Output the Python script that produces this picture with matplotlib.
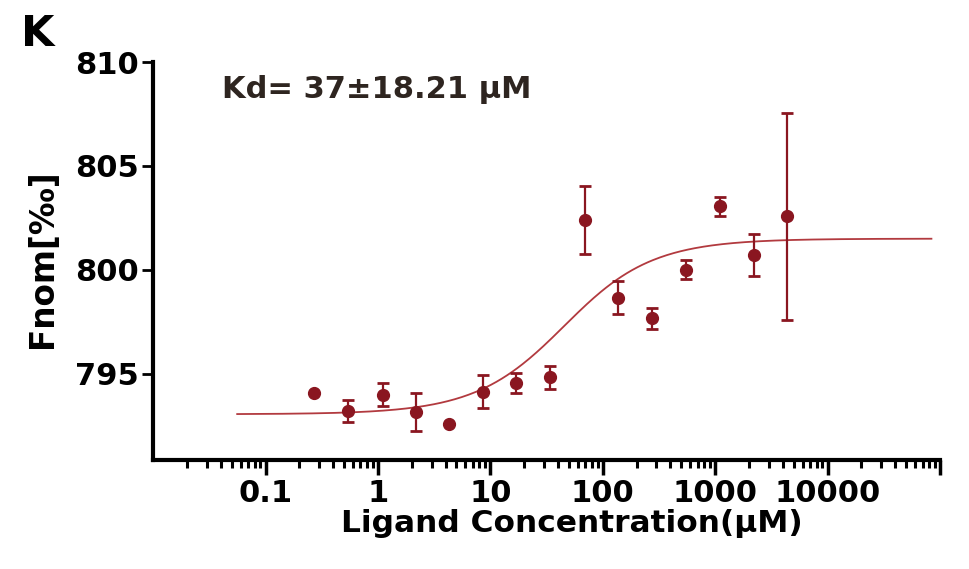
import numpy as np
import matplotlib.pyplot as plt
from matplotlib.ticker import FixedLocator, NullFormatter

plt.rcParams['font.family'] = ['DejaVu Sans']
plt.rcParams['font.weight'] = 'bold'

# ligand concentration (uM), 2-fold dilution series
conc = [0.27, 0.54, 1.1, 2.2, 4.3, 8.6, 17, 34, 69, 137, 275, 550, 1100, 2200, 4400]
# mean Fnorm (per mille) and SD
fnorm = [794.05, 793.2, 794.0, 793.15, 792.57, 794.14, 794.55, 794.82,
         802.39, 798.65, 797.66, 800.0, 803.06, 800.72, 802.57]
sd = [0.0, 0.54, 0.56, 0.9, 0.0, 0.8, 0.48, 0.55,
      1.65, 0.8, 0.5, 0.45, 0.45, 1.0, 5.0]

# fit parameters (Kd model)
kd = 37.0
target = 16.0
unbound = 793.05
bound = 801.5

x_ticks = [0.1, 1, 10, 100, 1000, 10000, 100000]
x_labels = ['0.1', '1', '10', '100', '1000', '10000', '']
y_ticks = [795, 800, 805, 810]

dot_color = '#8a1620'
line_color = '#b23a3f'

fig = plt.figure(figsize=(9.69, 5.69), dpi=100)
ax = fig.add_axes([0.158, 0.192, 0.812, 0.699])

# fitted curve
c = np.logspace(np.log10(0.056), np.log10(84000), 400)
s = c + target + kd
frac = (s - np.sqrt(s ** 2 - 4 * c * target)) / (2 * target)
ax.plot(c, unbound + (bound - unbound) * frac, color=line_color, lw=1.3, zorder=2)

ax.errorbar(conc, fnorm, yerr=sd, fmt='o', color=dot_color, ms=8.5,
            elinewidth=1.6, capsize=4, capthick=2, zorder=3)

ax.set_xscale('log')
ax.set_xlim(0.01, 100000)
ax.set_ylim(790.86, 810)

ax.xaxis.set_major_locator(FixedLocator(x_ticks))
ax.set_xticklabels(x_labels)
minor = [m * 10.0 ** e for e in range(-2, 5) for m in range(2, 10)]
ax.xaxis.set_minor_locator(FixedLocator(minor))
ax.xaxis.set_minor_formatter(NullFormatter())
ax.set_yticks(y_ticks)
ax.set_yticklabels([str(v) for v in y_ticks])

for side in ['top', 'right']:
    ax.spines[side].set_visible(False)
for side in ['left', 'bottom']:
    ax.spines[side].set_linewidth(3)

ax.tick_params(axis='x', which='major', length=11, width=2.5, labelsize=22, pad=3)
ax.tick_params(axis='x', which='minor', length=6, width=2.2)
ax.tick_params(axis='y', which='major', length=8, width=2, labelsize=22, pad=2)

ax.set_xlabel('Ligand Concentration(µM)', fontsize=22.5, fontweight='bold')
ax.xaxis.set_label_coords(0.532, -0.125)
ax.set_ylabel('Fnom[‰]', fontsize=23.5, fontweight='bold')
ax.yaxis.set_label_coords(-0.12, 0.505)

ax.text(0.088, 0.93, 'Kd= 37±18.21 µM', transform=ax.transAxes, fontsize=22,
        fontweight='bold', color='#2e2520', va='center')
fig.text(0.022, 0.94, 'K', fontsize=31, fontweight='bold', va='center')

fig.savefig('out.png', dpi=100)
